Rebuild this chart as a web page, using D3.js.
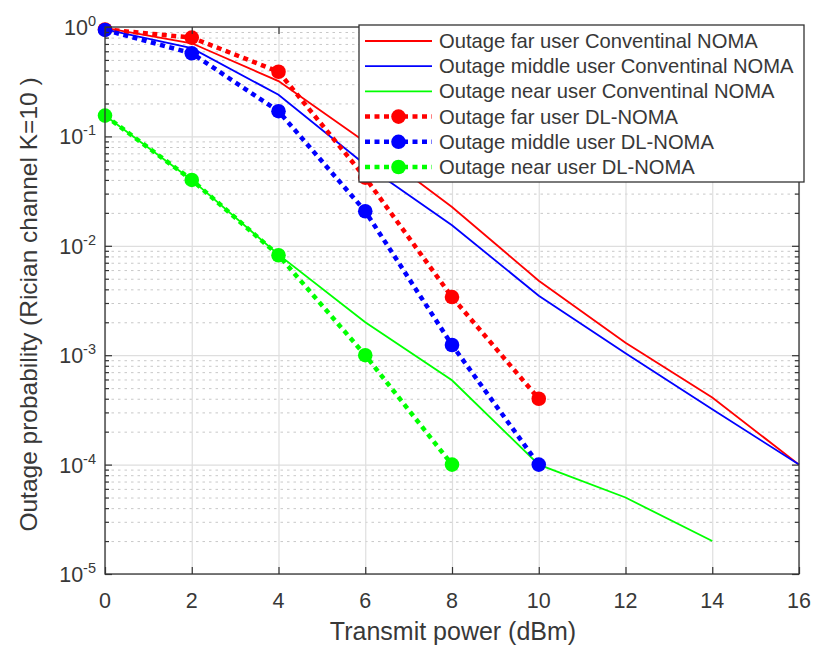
<!DOCTYPE html>
<html><head><meta charset="utf-8">
<script src="https://cdn.jsdelivr.net/npm/d3@7"></script>
<style>
body{margin:0;background:#fff;}
svg text{font-family:"Liberation Sans", Arial, Helvetica, sans-serif; fill:#383838;}
</style>
</head><body>
<svg id="chart" width="814" height="646"></svg>
<script>
// ---- data ----
const powerConv = [0, 2, 4, 6, 8, 10, 12, 14, 16];
const farConv = [0.98, 0.71, 0.32, 0.089, 0.0226, 0.0048, 0.0013, 0.00041, 0.0001];
const middleConv = [0.95, 0.64, 0.24, 0.055, 0.0154, 0.0035, 0.00104, 0.00032, 0.0001];
const powerNearConv = [0, 2, 4, 6, 8, 10, 12, 14];
const nearConv = [0.155, 0.04, 0.0083, 0.002, 0.00059, 0.0001, 0.00005, 0.00002];
const powerDLFarMid = [0, 2, 4, 6, 8, 10];
const farDL = [0.95, 0.80, 0.39, 0.042, 0.0034, 0.0004];
const middleDL = [0.94, 0.575, 0.17, 0.0207, 0.00124, 0.0001];
const powerDLNear = [0, 2, 4, 6, 8];
const nearDL = [0.155, 0.04, 0.0082, 0.001, 0.0001];
const xTicks = [0, 2, 4, 6, 8, 10, 12, 14, 16];
const yTicks = [1, 1e-1, 1e-2, 1e-3, 1e-4, 1e-5];
const yExponents = ["0", "-1", "-2", "-3", "-4", "-5"];
const legendLabels = [
  "Outage far user Conventinal NOMA",
  "Outage middle user Conventinal NOMA",
  "Outage near user Conventinal NOMA",
  "Outage far user DL-NOMA",
  "Outage middle user DL-NOMA",
  "Outage near user DL-NOMA"
];
const xLabel = "Transmit power (dBm)";
const yLabel = "Outage probability (Rician channel K=10 )";

// ---- layout ----
const L = 105, R = 799, T = 27, B = 574;
const svg = d3.select("#chart");
const x = d3.scaleLinear().domain([0, 16]).range([L, R]);
const y = d3.scaleLog().domain([1e-5, 1]).range([B, T]);

const minorVals = [];
for (let d = -5; d < 0; d++) for (let k = 2; k <= 9; k++) minorVals.push(k * Math.pow(10, d));

// minor grid (dotted)
svg.append("g").attr("transform", `translate(${L},0)`)
  .call(d3.axisLeft(y).tickValues(minorVals).tickSize(-(R - L)).tickFormat(""))
  .call(g => g.select(".domain").remove())
  .selectAll("line").attr("stroke", "#c8c8c8").attr("stroke-width", 1).attr("stroke-dasharray", "2.5,4");
// major grid
svg.append("g").attr("transform", `translate(${L},0)`)
  .call(d3.axisLeft(y).tickValues(yTicks).tickSize(-(R - L)).tickFormat(""))
  .call(g => g.select(".domain").remove())
  .selectAll("line").attr("stroke", "#dedede").attr("stroke-width", 1.2);
svg.append("g").attr("transform", `translate(0,${B})`)
  .call(d3.axisBottom(x).tickValues(xTicks).tickSize(-(B - T)).tickFormat(""))
  .call(g => g.select(".domain").remove())
  .selectAll("line").attr("stroke", "#dedede").attr("stroke-width", 1.2);

// ---- series ----
const series = [
  {xs: powerConv, ys: farConv, color: "#ff0000", dl: false},
  {xs: powerConv, ys: middleConv, color: "#0000ff", dl: false},
  {xs: powerNearConv, ys: nearConv, color: "#00ff00", dl: false},
  {xs: powerDLFarMid, ys: farDL, color: "#ff0000", dl: true},
  {xs: powerDLFarMid, ys: middleDL, color: "#0000ff", dl: true},
  {xs: powerDLNear, ys: nearDL, color: "#00ff00", dl: true}
];
const line = d3.line().x(d => x(d[0])).y(d => y(d[1]));
series.forEach(s => {
  const pts = s.xs.map((v, i) => [v, s.ys[i]]);
  const p = svg.append("path").datum(pts).attr("d", line)
    .attr("fill", "none").attr("stroke", s.color);
  if (s.dl) {
    p.attr("stroke-width", 4.5).attr("stroke-dasharray", "5,4.5");
    svg.append("g").selectAll("circle").data(pts).join("circle")
      .attr("cx", d => x(d[0])).attr("cy", d => y(d[1])).attr("r", 7.3)
      .attr("fill", s.color);
  } else {
    p.attr("stroke-width", 1.8);
  }
});

// ---- axes ----
const axCol = "#333333";
function styleAxis(g) {
  g.select(".domain").remove();
  g.selectAll("line").attr("stroke", axCol).attr("stroke-width", 1.2);
}
svg.append("g").attr("transform", `translate(0,${B})`)
  .call(d3.axisBottom(x).tickValues(xTicks).tickSize(-7).tickFormat("")).call(styleAxis);
svg.append("g").attr("transform", `translate(0,${T})`)
  .call(d3.axisTop(x).tickValues(xTicks).tickSize(-7).tickFormat("")).call(styleAxis);
svg.append("g").attr("transform", `translate(${L},0)`)
  .call(d3.axisLeft(y).tickValues(yTicks).tickSize(-7).tickFormat("")).call(styleAxis);
svg.append("g").attr("transform", `translate(${L},0)`)
  .call(d3.axisLeft(y).tickValues(minorVals).tickSize(-4).tickFormat("")).call(styleAxis);
svg.append("g").attr("transform", `translate(${R},0)`)
  .call(d3.axisRight(y).tickValues(yTicks).tickSize(-7).tickFormat("")).call(styleAxis);
svg.append("g").attr("transform", `translate(${R},0)`)
  .call(d3.axisRight(y).tickValues(minorVals).tickSize(-4).tickFormat("")).call(styleAxis);
svg.append("rect").attr("x", L).attr("y", T).attr("width", R - L).attr("height", B - T)
  .attr("fill", "none").attr("stroke", axCol).attr("stroke-width", 1.3);

// x tick labels
svg.append("g").selectAll("text").data(xTicks).join("text")
  .attr("x", d => x(d)).attr("y", 608).attr("text-anchor", "middle")
  .attr("font-size", 21.5).text(d => d);
// y tick labels
const yl = svg.append("g").selectAll("text").data(yTicks).join("text")
  .attr("x", 96).attr("y", d => y(d) + 8).attr("text-anchor", "end").attr("font-size", 21.5);
yl.append("tspan").text("10");
yl.append("tspan").attr("font-size", 14.5).attr("dy", -9).text((d, i) => yExponents[i]);

// axis labels
svg.append("text").attr("x", (L + R) / 2 + 1).attr("y", 640).attr("text-anchor", "middle")
  .attr("font-size", 25).text(xLabel);
svg.append("text").attr("transform", `translate(37,${(T + B) / 2 + 4}) rotate(-90)`)
  .attr("text-anchor", "middle").attr("font-size", 24.5).text(yLabel);

// ---- legend ----
const lg = svg.append("g");
lg.append("rect").attr("x", 359).attr("y", 25).attr("width", 445).attr("height", 157)
  .attr("fill", "#fff").attr("stroke", axCol).attr("stroke-width", 1.3);
series.forEach((s, i) => {
  const cy = 41 + i * 25.2;
  const l = lg.append("line").attr("x1", 365).attr("x2", 432).attr("y1", cy).attr("y2", cy)
    .attr("stroke", s.color);
  if (s.dl) {
    l.attr("stroke-width", 4.5).attr("stroke-dasharray", "5,4.5");
    lg.append("circle").attr("cx", 398.5).attr("cy", cy).attr("r", 7.3).attr("fill", s.color);
  } else {
    l.attr("stroke-width", 1.8);
  }
  lg.append("text").attr("x", 439).attr("y", cy + 7).attr("font-size", 20.2).text(legendLabels[i]);
});
</script>
</body></html>
